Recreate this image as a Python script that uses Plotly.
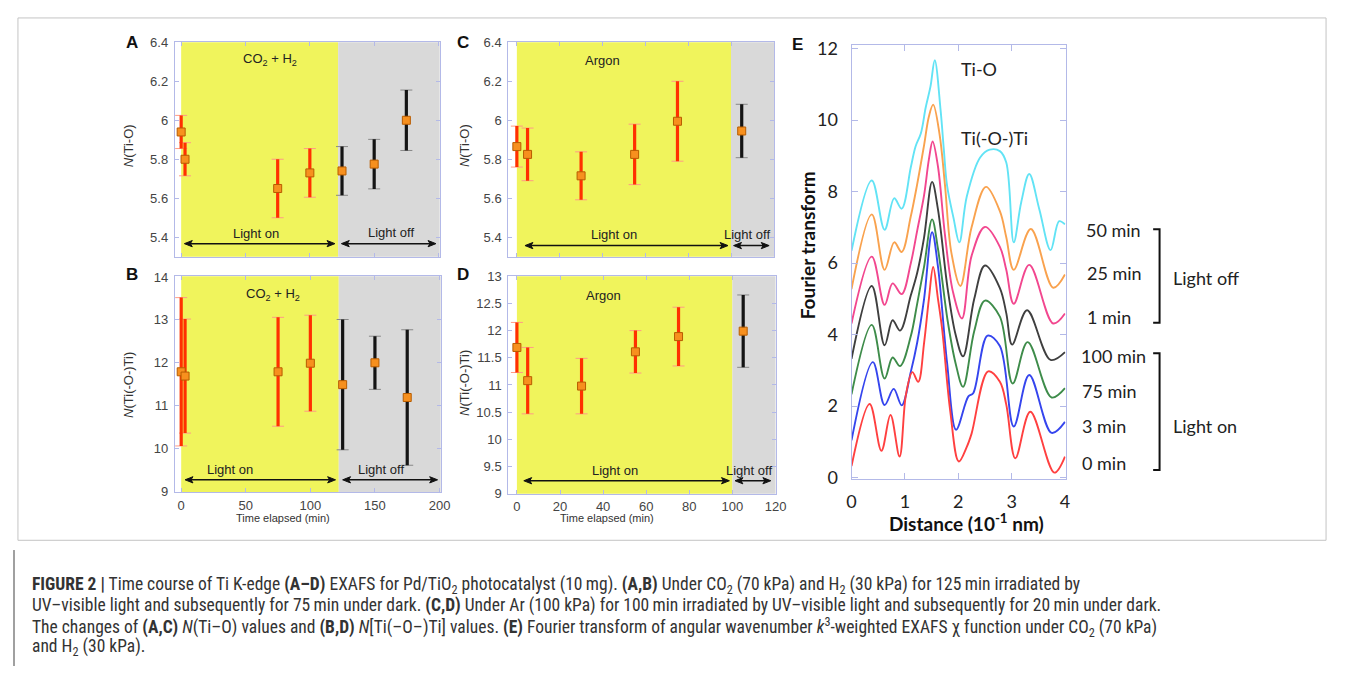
import plotly.graph_objects as go

# page is 1349x683; body keeps an 8 px margin, so the figure is 16 px smaller
PAGE_W, PAGE_H = 1349, 683
OX, OY = 8, 8
W, H = PAGE_W - 2 * OX, PAGE_H - 2 * OY

# ---------------- data: panels A/B (CO2 + H2) ----------------
t_co2 = [0, 3, 75, 100, 125, 150, 175]
n_tio_co2 = [5.94, 5.80, 5.65, 5.73, 5.74, 5.775, 6.00]
n_tio_co2_err = [0.085, 0.085, 0.15, 0.125, 0.125, 0.127, 0.155]
n_titi_co2 = [11.79, 11.69, 11.79, 11.99, 11.49, 12.0, 11.19]
n_titi_co2_err = [1.73, 1.33, 1.27, 1.12, 1.52, 0.62, 1.58]
light_on_co2 = [True, True, True, True, False, False, False]
boundary_co2 = 122

# ---------------- data: panels C/D (Argon) ----------------
t_ar = [0, 5, 30, 55, 75, 105]
n_tio_ar = [5.865, 5.825, 5.715, 5.825, 5.995, 5.945]
n_tio_ar_err = [0.105, 0.135, 0.123, 0.155, 0.205, 0.137]
n_titi_ar = [11.69, 11.08, 10.98, 11.61, 11.89, 11.99]
n_titi_ar_err = [0.46, 0.61, 0.51, 0.39, 0.54, 0.665]
light_on_ar = [True, True, True, True, True, False]
boundary_ar = 100

# ---------------- data: panel E (Fourier transforms) ----------------
r_50 = [0, 0.38, 0.62, 0.80, 0.94, 1.11, 1.20, 1.30, 1.39, 1.48, 1.56, 1.67, 1.73, 1.79, 1.91, 2.02, 2.16, 2.41, 2.59, 2.78, 2.90, 3.04, 3.18, 3.33, 3.52, 3.73, 3.89, 4.0]
ft_50 = [6.34, 8.31, 6.93, 7.81, 7.52, 8.67, 9.26, 9.63, 10.35, 10.94, 11.67, 10.26, 9.17, 8.17, 7.27, 6.58, 7.86, 8.95, 9.17, 9.13, 8.81, 6.58, 7.7, 8.49, 7.5, 6.36, 7.17, 7.08]

r_25 = [0, 0.38, 0.62, 0.80, 0.94, 1.11, 1.23, 1.36, 1.45, 1.53, 1.65, 1.75, 1.87, 2.04, 2.25, 2.52, 2.78, 2.90, 3.04, 3.36, 3.78, 4.0]
ft_25 = [5.27, 7.36, 5.81, 6.58, 6.31, 7.3, 8.2, 9.3, 10.1, 10.43, 9.6, 8.2, 6.3, 5.36, 7.0, 8.13, 7.45, 6.72, 5.81, 6.95, 5.31, 5.68]

r_1 = [0, 0.38, 0.62, 0.77, 0.94, 1.11, 1.23, 1.36, 1.45, 1.52, 1.62, 1.75, 1.90, 2.07, 2.25, 2.50, 2.78, 2.90, 3.04, 3.33, 3.78, 4.0]
ft_1 = [4.31, 6.18, 4.83, 5.43, 5.13, 5.99, 6.9, 7.9, 8.9, 9.40, 8.7, 6.8, 5.2, 4.45, 6.2, 7.01, 6.45, 5.81, 4.86, 5.95, 4.31, 4.59]

r_100 = [0, 0.38, 0.62, 0.77, 0.91, 1.11, 1.23, 1.36, 1.51, 1.62, 1.80, 1.95, 2.09, 2.30, 2.50, 2.78, 2.90, 3.01, 3.29, 3.73, 4.0]
ft_100 = [3.32, 5.36, 3.70, 4.40, 4.11, 5.09, 5.72, 6.72, 8.27, 7.5, 5.3, 4.0, 3.39, 5.0, 5.93, 5.3, 4.6, 3.72, 4.68, 3.29, 3.51]

r_75 = [0, 0.38, 0.62, 0.77, 0.91, 1.11, 1.23, 1.36, 1.51, 1.62, 1.80, 1.95, 2.09, 2.30, 2.50, 2.78, 3.02, 3.30, 3.75, 4.0]
ft_75 = [2.33, 4.27, 2.77, 3.36, 3.12, 3.95, 4.86, 5.9, 7.22, 6.4, 4.4, 3.2, 2.54, 4.1, 4.95, 4.5, 2.63, 3.79, 2.24, 2.50]

r_3 = [0, 0.40, 0.62, 0.79, 0.94, 1.11, 1.23, 1.36, 1.51, 1.62, 1.79, 1.96, 2.19, 2.28, 2.55, 2.78, 3.04, 3.33, 3.75, 4.0]
ft_3 = [1.04, 3.23, 2.03, 2.48, 2.02, 2.95, 3.77, 5.0, 6.86, 5.9, 3.22, 1.34, 2.27, 2.36, 3.97, 3.68, 1.43, 2.87, 1.25, 1.56]

r_0 = [0, 0.34, 0.56, 0.73, 0.90, 1.02, 1.14, 1.25, 1.36, 1.45, 1.53, 1.62, 1.70, 1.85, 2.01, 2.16, 2.25, 2.56, 2.78, 2.90, 3.07, 3.35, 3.80, 4.0]
ft_0 = [0.32, 2.06, 0.75, 1.75, 0.59, 2.32, 2.95, 2.68, 3.77, 5.0, 5.89, 5.0, 4.13, 1.86, 0.45, 0.86, 1.23, 2.97, 2.68, 2.04, 0.54, 1.84, 0.14, 0.59]

curve_labels = ["50 min", "25 min", "1 min", "100 min", "75 min", "3 min", "0 min"]
curve_colors = ["#62e3f5", "#f9a24e", "#f2478f", "#3f3f3f", "#3e8c4a", "#3545ee", "#ff4040"]

# ---------------- helpers (page pixel -> paper fraction) ----------------
def px(x):
    return (x - OX) / W

def py(y):
    return 1 - (y - OY) / H

def dom_x(a, b):
    return [px(a), px(b)]

def dom_y(top, bottom):
    return [py(bottom), py(top)]

FRAME = "#b3b9e8"
TICKFONT = dict(family="Liberation Sans, Arial, sans-serif", size=13, color="#444444")
TXT = dict(family="Liberation Sans, Arial, sans-serif", size=13, color="#222222")
CAL = "Lato, Open Sans, sans-serif"

fig = go.Figure()


def add_series(t, v, e, flags, xa, ya):
    for flag, col, capcol in [(True, "#ff3000", "#ff9b85"), (False, "#141414", "#888888")]:
        xs = [a for a, f in zip(t, flags) if f == flag]
        vs = [a for a, f in zip(v, flags) if f == flag]
        es = [a for a, f in zip(e, flags) if f == flag]
        if not xs:
            continue
        fig.add_trace(go.Scatter(x=xs, y=vs, mode="markers", xaxis=xa, yaxis=ya,
                                 marker=dict(size=1, color="rgba(0,0,0,0)"),
                                 error_y=dict(type="data", array=es, thickness=1, width=6, color=capcol),
                                 showlegend=False, hoverinfo="skip"))
        fig.add_trace(go.Scatter(x=xs, y=vs, mode="markers", xaxis=xa, yaxis=ya,
                                 marker=dict(size=1, color="rgba(0,0,0,0)"),
                                 error_y=dict(type="data", array=es, thickness=3.2, width=0, color=col),
                                 showlegend=False, hoverinfo="skip"))
    fig.add_trace(go.Scatter(x=t, y=v, mode="markers", xaxis=xa, yaxis=ya,
                             marker=dict(symbol="square", size=8, color="#f7901e",
                                         line=dict(color="#b85c00", width=1)),
                             showlegend=False))


add_series(t_co2, n_tio_co2, n_tio_co2_err, light_on_co2, "x", "y")
add_series(t_co2, n_titi_co2, n_titi_co2_err, light_on_co2, "x2", "y2")
add_series(t_ar, n_tio_ar, n_tio_ar_err, light_on_ar, "x3", "y3")
add_series(t_ar, n_titi_ar, n_titi_ar_err, light_on_ar, "x4", "y4")

e_r = [r_50, r_25, r_1, r_100, r_75, r_3, r_0]
e_f = [ft_50, ft_25, ft_1, ft_100, ft_75, ft_3, ft_0]
for r, f, c, lab in zip(e_r, e_f, curve_colors, curve_labels):
    fig.add_trace(go.Scatter(x=r, y=f, mode="lines", xaxis="x5", yaxis="y5",
                             line=dict(color=c, width=1.9, shape="spline", smoothing=1.0),
                             name=lab, showlegend=False))

# ---------------- axes ----------------
xr_co2 = [-5, 201]
xr_ar = [-4, 120.1]
yr_tio = [5.3, 6.4]
yr_titi_co2 = [8.98, 14.02]
yr_titi_ar = [9, 13]

# panel pixel boxes (left, right, top, bottom) in page pixels
box_A = (171.7, 440, 35, 255)
box_B = (171.7, 441, 275, 496.7)
box_C = (509.3, 778.3, 35, 255)
box_D = (509.3, 780, 275, 498.3)
box_E = (856.7, 1073.3, 37.3, 483.3)


def ax_style(**kw):
    d = dict(showline=True, linecolor=FRAME, linewidth=1, mirror="ticks", ticks="inside",
             ticklen=4, tickcolor=FRAME, showgrid=False, zeroline=False, tickfont=TICKFONT,
             ticklabelstandoff=3)
    d.update(kw)
    return d

layout = dict(
    xaxis=ax_style(domain=dom_x(box_A[0], box_A[1]), range=xr_co2, tickvals=[0, 50, 100, 150, 200],
                   showticklabels=False, anchor="y"),
    yaxis=ax_style(domain=dom_y(box_A[2], box_A[3]), range=yr_tio, tickvals=[5.4, 5.6, 5.8, 6, 6.2, 6.4],
                   ticktext=["5.4", "5.6", "5.8", "6", "6.2", "6.4"], anchor="x"),
    xaxis2=ax_style(domain=dom_x(box_B[0], box_B[1]), range=xr_co2, tickvals=[0, 50, 100, 150, 200],
                    ticklabelstandoff=1, anchor="y2"),
    yaxis2=ax_style(domain=dom_y(box_B[2], box_B[3]), range=yr_titi_co2, tickvals=[9, 10, 11, 12, 13, 14],
                    anchor="x2"),
    xaxis3=ax_style(domain=dom_x(box_C[0], box_C[1]), range=xr_ar, tickvals=[0, 20, 40, 60, 80, 100, 120],
                    showticklabels=False, anchor="y3"),
    yaxis3=ax_style(domain=dom_y(box_C[2], box_C[3]), range=yr_tio, tickvals=[5.4, 5.6, 5.8, 6, 6.2, 6.4],
                    ticktext=["5.4", "5.6", "5.8", "6", "6.2", "6.4"], anchor="x3"),
    xaxis4=ax_style(domain=dom_x(box_D[0], box_D[1]), range=xr_ar, tickvals=[0, 20, 40, 60, 80, 100, 120],
                    ticklabelstandoff=1, anchor="y4"),
    yaxis4=ax_style(domain=dom_y(box_D[2], box_D[3]), range=yr_titi_ar,
                    tickvals=[9, 9.5, 10, 10.5, 11, 11.5, 12, 12.5, 13],
                    ticktext=["9", "9.5", "10", "10.5", "11", "11.5", "12", "12.5", "13"], anchor="x4"),
    xaxis5=ax_style(domain=dom_x(box_E[0], box_E[1]), range=[0, 4.01], tickvals=[0, 1, 2, 3, 4], ticklen=6,
                    tickfont=dict(family=CAL, size=18, color="#222222"), ticklabelstandoff=6, anchor="y5"),
    yaxis5=ax_style(domain=dom_y(box_E[2], box_E[3]), range=[-0.044, 12.11], tickvals=[0, 2, 4, 6, 8, 10, 12],
                    ticklen=6, tickfont=dict(family=CAL, size=18, color="#222222"), ticklabelstandoff=9,
                    anchor="x5"),
)

shapes = []
# light on/off backgrounds
for xr, yr, b, xmax in [("x", "y domain", boundary_co2, xr_co2[1]), ("x2", "y2 domain", boundary_co2, xr_co2[1]),
                        ("x3", "y3 domain", boundary_ar, xr_ar[1]), ("x4", "y4 domain", boundary_ar, xr_ar[1])]:
    shapes.append(dict(type="rect", xref=xr, yref=yr, x0=0, x1=b, y0=0, y1=1, fillcolor="#f0f45c",
                       line=dict(width=0), layer="below"))
    shapes.append(dict(type="rect", xref=xr, yref=yr, x0=b, x1=xmax, y0=0, y1=1, fillcolor="#d9d9d9",
                       line=dict(width=0), layer="below"))


def darrow(x0, x1, y, xref, yref, box, xrange_, yrange_):
    # double-headed arrow drawn as shapes; head size defined in pixels
    sx = (box[1] - box[0]) / (xrange_[1] - xrange_[0])
    sy = (box[3] - box[2]) / (yrange_[1] - yrange_[0])
    hl, hw = 8.0 / sx, 3.2 / sy
    shapes.append(dict(type="line", xref=xref, yref=yref, x0=x0 + hl * 0.6, x1=x1 - hl * 0.6, y0=y, y1=y,
                       line=dict(color="#111111", width=1.5)))
    shapes.append(dict(type="path", xref=xref, yref=yref,
                       path=f"M {x0} {y} L {x0 + hl} {y + hw} L {x0 + hl * 0.75} {y} L {x0 + hl} {y - hw} Z",
                       fillcolor="#111111", line=dict(color="#111111", width=1)))
    shapes.append(dict(type="path", xref=xref, yref=yref,
                       path=f"M {x1} {y} L {x1 - hl} {y + hw} L {x1 - hl * 0.75} {y} L {x1 - hl} {y - hw} Z",
                       fillcolor="#111111", line=dict(color="#111111", width=1)))


darrow(2.5, 119.5, 5.367, "x", "y", box_A, xr_co2, yr_tio)
darrow(124.5, 198, 5.367, "x", "y", box_A, xr_co2, yr_tio)
darrow(3, 119.5, 9.27, "x2", "y2", box_B, xr_co2, yr_titi_co2)
darrow(125, 198.5, 9.27, "x2", "y2", box_B, xr_co2, yr_titi_co2)
darrow(3.8, 98.6, 5.357, "x3", "y3", box_C, xr_ar, yr_tio)
darrow(101.2, 117.8, 5.357, "x3", "y3", box_C, xr_ar, yr_tio)
darrow(3.2, 98.6, 9.24, "x4", "y4", box_D, xr_ar, yr_titi_ar)
darrow(101.2, 117.8, 9.24, "x4", "y4", box_D, xr_ar, yr_titi_ar)

# brackets in panel E
for top, bot in [(226.7, 322.7), (354, 474)]:
    shapes.append(dict(type="path", xref="paper", yref="paper",
                       path=f"M {px(1162)} {py(top)} L {px(1168.5)} {py(top)} L {px(1168.5)} {py(bot)} L {px(1162)} {py(bot)}",
                       line=dict(color="#111111", width=2)))

# figure frame and caption bar
shapes.append(dict(type="rect", xref="paper", yref="paper", x0=px(13), x1=px(1337), y0=py(546), y1=py(10),
                   line=dict(color="#c4c4c4", width=1)))
shapes.append(dict(type="line", xref="paper", yref="paper", x0=px(9), x1=px(9), y0=py(556), y1=py(675),
                   line=dict(color="#a0a0a0", width=2)))

ann = []

def atext(text, x, y, xref, yref, font=TXT, xanchor="center", yanchor="middle", textangle=0):
    ann.append(dict(text=text, x=x, y=y, xref=xref, yref=yref, showarrow=False, font=font,
                    xanchor=xanchor, yanchor=yanchor, textangle=textangle))

# panel A
atext("CO<sub>2</sub> + H<sub>2</sub>", 69, 6.31, "x", "y")
atext("Light on", 58, 5.42, "x", "y")
atext("Light off", 163, 5.425, "x", "y")
# panel B
atext("CO<sub>2</sub> + H<sub>2</sub>", 71, 13.6, "x2", "y2")
atext("Light on", 38, 9.5, "x2", "y2")
atext("Light off", 155, 9.52, "x2", "y2")
# panel C
atext("Argon", 40, 6.305, "x3", "y3")
atext("Light on", 45.5, 5.415, "x3", "y3")
atext("Light off", 107.5, 5.415, "x3", "y3")
# panel D
atext("Argon", 40, 12.65, "x4", "y4")
atext("Light on", 45.5, 9.42, "x4", "y4")
atext("Light off", 107.5, 9.42, "x4", "y4")

# axis titles A-D
YT = dict(family="Liberation Sans, Arial, sans-serif", size=13, color="#333333")
atext("<i>N</i>(Ti-O)", px(125), py(141), "paper", "paper", font=YT, textangle=-90)
atext("<i>N</i>(Ti(-O-)Ti)", px(125), py(387), "paper", "paper", font=YT, textangle=-90)
atext("<i>N</i>(Ti-O)", px(465), py(141), "paper", "paper", font=YT, textangle=-90)
atext("<i>N</i>(Ti(-O-)Ti)", px(465), py(385), "paper", "paper", font=YT, textangle=-90)
XT = dict(family="Liberation Sans, Arial, sans-serif", size=11, color="#333333")
atext("Time elapsed (min)", px(281), py(523), "paper", "paper", font=XT)
atext("Time elapsed (min)", px(609), py(523), "paper", "paper", font=XT)

# panel letters
PL = dict(family="Liberation Sans, Arial, sans-serif", size=17, color="#111111")
for lab, x, y in [("A", 128, 35), ("B", 128, 273), ("C", 463, 35), ("D", 463, 273), ("E", 801.7, 37)]:
    atext(f"<b>{lab}</b>", px(x), py(y), "paper", "paper", font=PL)

# panel E texts
EF = dict(family=CAL, size=18, color="#222222")
atext("Ti-O", 2.38, 11.44, "x5", "y5", font=EF)
atext("Ti(-O-)Ti", 2.68, 9.49, "x5", "y5", font=EF)
atext("<b>Fourier transform</b>", px(812), py(243), "paper", "paper",
      font=dict(family=CAL, size=19, color="#111111"), textangle=-90)
atext("<b>Distance (10<sup>-1</sup> nm)</b>", px(973), py(528), "paper", "paper",
      font=dict(family=CAL, size=19, color="#111111"))
label_pos = [(1092, 227.3), (1092.7, 271.7), (1093, 316.7), (1086.7, 356.7), (1088, 392.7), (1088, 428.3), (1088, 466.7)]
for lab, (x, y) in zip(curve_labels, label_pos):
    atext(lab, px(x), py(y), "paper", "paper", font=EF, xanchor="left")
atext("Light off", px(1180), py(276.7), "paper", "paper", font=EF, xanchor="left")
atext("Light on", px(1180), py(428.3), "paper", "paper", font=EF, xanchor="left")

# caption
CF = dict(family="Liberation Sans Narrow, Roboto Condensed, DejaVu Sans Condensed, Arial Narrow, sans-serif",
          size=17.5, color="#333333")
cap_lines = [
    "<b>FIGURE 2 |</b> Time course of Ti K-edge <b>(A–D)</b> EXAFS for Pd/TiO<sub>2</sub> photocatalyst (10\u2009mg). "
    "<b>(A,B)</b> Under CO<sub>2</sub> (70 kPa) and H<sub>2</sub> (30 kPa) for 125\u2009min irradiated by",
    "UV–visible light and subsequently for 75\u2009min under dark. <b>(C,D)</b> Under Ar (100 kPa) for 100\u2009min "
    "irradiated by UV–visible light and subsequently for 20\u2009min under dark.",
    "The changes of <b>(A,C)</b> <i>N</i>(Ti–O) values and <b>(B,D)</b> <i>N</i>[Ti(–O–)Ti] values. <b>(E)</b> "
    "Fourier transform of angular wavenumber <i>k</i><sup>3</sup>-weighted EXAFS χ function under CO<sub>2</sub> (70 kPa)",
    "and H<sub>2</sub> (30 kPa).",
]
for line, y in zip(cap_lines, [592, 613, 635, 656]):
    atext(line, px(25), py(y), "paper", "paper", font=CF, xanchor="left")

fig.update_layout(**layout)
fig.update_layout(shapes=shapes, annotations=ann, width=W, height=H, autosize=False,
                  margin=dict(l=0, r=0, t=0, b=0), paper_bgcolor="white", plot_bgcolor="white",
                  showlegend=False)

fig.write_html("out.html", config={"displayModeBar": False})
